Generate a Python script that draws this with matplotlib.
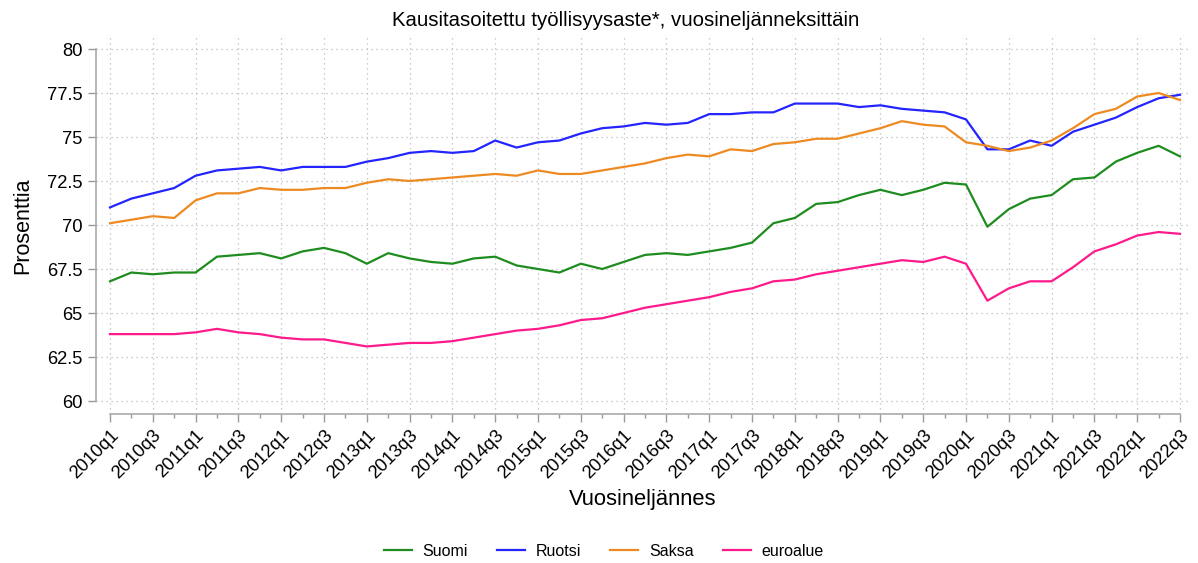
import matplotlib
matplotlib.use("Agg")
import matplotlib.pyplot as plt
from matplotlib.ticker import FixedLocator, FuncFormatter

plt.rcParams['font.family'] = ['Liberation Sans', 'DejaVu Sans']

years = list(range(2010, 2023))
quarters = [f"{y}q{q}" for y in years for q in range(1, 5)][:51]

suomi = [66.8, 67.3, 67.2, 67.3, 67.3, 68.2, 68.3, 68.4, 68.1, 68.5, 68.7, 68.4,
         67.8, 68.4, 68.1, 67.9, 67.8, 68.1, 68.2, 67.7, 67.5, 67.3, 67.8, 67.5,
         67.9, 68.3, 68.4, 68.3, 68.5, 68.7, 69.0, 70.1, 70.4, 71.2, 71.3, 71.7,
         72.0, 71.7, 72.0, 72.4, 72.3, 69.9, 70.9, 71.5, 71.7, 72.6, 72.7, 73.6,
         74.1, 74.5, 73.9]
ruotsi = [71.0, 71.5, 71.8, 72.1, 72.8, 73.1, 73.2, 73.3, 73.1, 73.3, 73.3, 73.3,
          73.6, 73.8, 74.1, 74.2, 74.1, 74.2, 74.8, 74.4, 74.7, 74.8, 75.2, 75.5,
          75.6, 75.8, 75.7, 75.8, 76.3, 76.3, 76.4, 76.4, 76.9, 76.9, 76.9, 76.7,
          76.8, 76.6, 76.5, 76.4, 76.0, 74.3, 74.3, 74.8, 74.5, 75.3, 75.7, 76.1,
          76.7, 77.2, 77.4]
saksa = [70.1, 70.3, 70.5, 70.4, 71.4, 71.8, 71.8, 72.1, 72.0, 72.0, 72.1, 72.1,
         72.4, 72.6, 72.5, 72.6, 72.7, 72.8, 72.9, 72.8, 73.1, 72.9, 72.9, 73.1,
         73.3, 73.5, 73.8, 74.0, 73.9, 74.3, 74.2, 74.6, 74.7, 74.9, 74.9, 75.2,
         75.5, 75.9, 75.7, 75.6, 74.7, 74.5, 74.2, 74.4, 74.8, 75.5, 76.3, 76.6,
         77.3, 77.5, 77.1]
euroalue = [63.8, 63.8, 63.8, 63.8, 63.9, 64.1, 63.9, 63.8, 63.6, 63.5, 63.5, 63.3,
            63.1, 63.2, 63.3, 63.3, 63.4, 63.6, 63.8, 64.0, 64.1, 64.3, 64.6, 64.7,
            65.0, 65.3, 65.5, 65.7, 65.9, 66.2, 66.4, 66.8, 66.9, 67.2, 67.4, 67.6,
            67.8, 68.0, 67.9, 68.2, 67.8, 65.7, 66.4, 66.8, 66.8, 67.6, 68.5, 68.9,
            69.4, 69.6, 69.5]

series_names = ["Suomi", "Ruotsi", "Saksa", "euroalue"]
series_values = [suomi, ruotsi, saksa, euroalue]
colors = ["#1E8C1E", "#2424FF", "#EE8A22", "#FF1A8C"]

yticks = [60, 62.5, 65, 67.5, 70, 72.5, 75, 77.5, 80]

fig = plt.figure(figsize=(11.98, 5.63), dpi=100)
W, H = 1198, 563
left, right, top, bottom = 96, 1190, 37, 414
ax = fig.add_axes([left / W, 1 - bottom / H, (right - left) / W, (bottom - top) / H])

x = list(range(len(quarters)))
for name, vals, c in zip(series_names, series_values, colors):
    ax.plot(x, vals, color=c, lw=1.6, label=name)

ppx = 21.4
ax.set_xlim(-14 / ppx, 50 + 10 / ppx)
ppy = 17.6
ax.set_ylim(60 - 13 / ppy, 80 + 12 / ppy)

major_idx = list(range(0, len(quarters), 2))
ax.xaxis.set_major_locator(FixedLocator(major_idx))
ax.xaxis.set_minor_locator(FixedLocator(x))
ax.set_xticklabels([quarters[i] for i in major_idx], rotation=45, ha='right',
                   rotation_mode='anchor', fontsize=13.2)
ax.yaxis.set_major_locator(FixedLocator(yticks))
ax.yaxis.set_major_formatter(FuncFormatter(lambda v, p: f"{v:g}"))
ax.tick_params(axis='y', labelsize=13.2, color='#999999', length=6, width=1)
ax.tick_params(axis='x', which='major', color='#999999', length=6, width=1)
ax.tick_params(axis='x', which='minor', color='#999999', length=3, width=1)

for s in ['top', 'right']:
    ax.spines[s].set_visible(False)
for s in ['left', 'bottom']:
    ax.spines[s].set_color('#aaaaaa')
    ax.spines[s].set_linewidth(1.2)
ax.spines['left'].set_bounds(60, 80)
ax.spines['bottom'].set_bounds(0, 50)

ax.grid(True, which='major', color='#bbbbbb', linestyle=(0, (1, 3)), lw=0.9)
ax.set_axisbelow(True)

ax.set_title("Kausitasoitettu työllisyysaste*, vuosineljänneksittäin", fontsize=14.7,
             x=(626 - left) / (right - left), pad=8)
ax.set_ylabel("Prosenttia", fontsize=15.5, labelpad=10)
ax.set_xlabel("Vuosineljännes", fontsize=15.8, labelpad=5)

fig.legend(loc='center', bbox_to_anchor=(0.504, 1 - 551 / H), ncol=4, frameon=False,
           fontsize=11.5, handlelength=1.75, handletextpad=0.7, columnspacing=1.8)

fig.savefig("out.png", dpi=100)
